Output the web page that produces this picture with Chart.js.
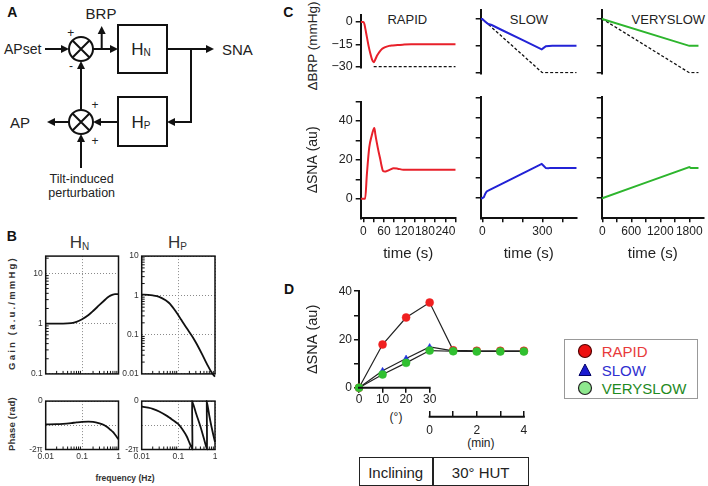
<!DOCTYPE html>
<html>
<head>
<meta charset="utf-8">
<script src="https://cdn.jsdelivr.net/npm/chart.js@4.4.1/dist/chart.umd.min.js"></script>
<style>
  body { margin: 0; background: #fff; }
  #fig { position: relative; width: 708px; height: 486px; overflow: hidden; background: #fff;
         font-family: "Liberation Sans", Arial, sans-serif; color: #222; }
  #fig canvas { position: absolute; }
  .t { position: absolute; transform: translate(-50%, -50%); white-space: nowrap; line-height: 1; color: #222; }
  .v { transform: translate(-50%, -50%) rotate(-90deg); }
  .pl { font-weight: bold; font-size: 14px; color: #111; }
  .ht { font-size: 17px; color: #333; }
  .ht span { font-size: 10px; position: relative; top: 2px; }
  .lg { position: absolute; font-size: 15px; line-height: 1; transform: translateY(-50%); }
</style>
</head>
<body>
<div id="fig">
  <!-- A: block diagram -->
  <svg width="262" height="205" style="position:absolute;left:0;top:0" font-family="Liberation Sans, Arial, sans-serif" fill="#222">
    <g stroke="#111" stroke-width="2" fill="none">
      <circle cx="81" cy="49" r="12"/>
      <path d="M72.5 40.5L89.5 57.5M89.5 40.5L72.5 57.5"/>
      <circle cx="81" cy="122" r="12"/>
      <path d="M72.5 113.5L89.5 130.5M89.5 113.5L72.5 130.5"/>
      <rect x="118" y="25" width="49" height="48"/>
      <rect x="118" y="97" width="49" height="49"/>
      <path d="M45 49H62M93 49H111M101.7 49V33M167 49H206M191 49V122H175M118 122H101M69 122H55M81 110V69M81 168V142"/>
    </g>
    <g fill="#111">
      <polygon points="69,49 61,45 61,53"/>
      <polygon points="118,49 110,45 110,53"/>
      <polygon points="101.7,26 97.7,34 105.7,34"/>
      <polygon points="214,49 206,45 206,53"/>
      <polygon points="167,122 175,118 175,126"/>
      <polygon points="93,122 101,118 101,126"/>
      <polygon points="47,122 55,118 55,126"/>
      <polygon points="81,61 77,69 85,69"/>
      <polygon points="81,134 77,142 85,142"/>
    </g>
    <text x="4" y="54" font-size="14">APset</text>
    <text x="101" y="19" font-size="15" text-anchor="middle">BRP</text>
    <text x="222" y="54.5" font-size="15">SNA</text>
    <text x="10" y="127.5" font-size="15">AP</text>
    <text x="141" y="55" font-size="17" text-anchor="middle">H<tspan font-size="10" dy="1">N</tspan></text>
    <text x="141" y="128" font-size="17" text-anchor="middle">H<tspan font-size="10" dy="1">P</tspan></text>
    <text x="70.7" y="36.5" font-size="12" text-anchor="middle">+</text>
    <text x="71" y="69.5" font-size="12" text-anchor="middle">-</text>
    <text x="95" y="109.2" font-size="12" text-anchor="middle">+</text>
    <text x="95" y="145.2" font-size="12" text-anchor="middle">+</text>
    <text x="81.7" y="183" font-size="12.5" text-anchor="middle">Tilt-induced</text>
    <text x="81.7" y="197.4" font-size="12.5" text-anchor="middle">perturbation</text>
  </svg>

  <div class="t pl" style="left:12.3px;top:12.3px">A</div>
  <div class="t pl" style="left:11.7px;top:236px">B</div>
  <div class="t pl" style="left:288.3px;top:11.7px">C</div>
  <div class="t pl" style="left:289px;top:289px">D</div>

  <!-- B labels -->
  <div class="t ht" style="left:79.5px;top:242px">H<span>N</span></div>
  <div class="t ht" style="left:177.5px;top:242px">H<span>P</span></div>
  <div class="t v" style="left:11.5px;top:313px;font-size:9.5px;font-weight:bold;letter-spacing:2.2px;color:#333">Gain (a.u./mmHg)</div>
  <div class="t v" style="left:11.5px;top:424px;font-size:9.5px;font-weight:bold;letter-spacing:0.2px;color:#333">Phase (rad)</div>
  <div class="t" style="left:125px;top:478px;font-size:8.5px;font-weight:bold;color:#333">frequency (Hz)</div>

  <!-- C titles -->
  <div class="t v" style="left:313.4px;top:46px;font-size:13.5px">ΔBRP (mmHg)</div>
  <div class="t" style="left:407.3px;top:19.3px;font-size:13px">RAPID</div>
  <div class="t" style="left:529px;top:19.3px;font-size:13px">SLOW</div>
  <div class="t" style="left:668.3px;top:19.3px;font-size:13px">VERYSLOW</div>

  <!-- D extras -->
  <div class="t" style="left:396px;top:416.7px;font-size:12px">(°)</div>
  <div class="t" style="left:480.8px;top:443.3px;font-size:12px">(min)</div>

  <div style="position:absolute;left:564px;top:339px;width:134px;height:60px;border:1.5px solid #999;box-sizing:border-box"></div>
  <svg width="18" height="54" style="position:absolute;left:576px;top:342px">
    <circle cx="9" cy="9" r="6.5" fill="#ee1111" stroke="#550000" stroke-width="1.2"/>
    <polygon points="9,22 15,33.5 3,33.5" fill="#1a1ad0" stroke="#000066" stroke-width="1"/>
    <circle cx="9" cy="46" r="6.5" fill="#8ee88e" stroke="#222" stroke-width="1.2"/>
  </svg>
  <div class="lg" style="left:601.7px;top:351px;color:#e83a3a">RAPID</div>
  <div class="lg" style="left:601.7px;top:370px;color:#2f2fd0">SLOW</div>
  <div class="lg" style="left:601.7px;top:388px;color:#1f8a1f">VERYSLOW</div>

  <div style="position:absolute;left:359px;top:457px;width:170px;height:29px;border:1.5px solid #222;box-sizing:border-box"></div>
  <div style="position:absolute;left:432.3px;top:457px;width:1.5px;height:29px;background:#222"></div>
  <div class="t" style="left:395.7px;top:471.5px;font-size:15px">Inclining</div>
  <div class="t" style="left:480.7px;top:471.5px;font-size:15px">30° HUT</div>
</div>

<script>
    Chart.defaults.font.family = '"Liberation Sans", Arial, sans-serif';
    Chart.defaults.color = '#222';
    Chart.defaults.animation = false;
    Chart.defaults.events = [];
    Chart.defaults.plugins.legend.display = false;
    Chart.defaults.plugins.tooltip.enabled = false;

    /** B : transfer functions (frequency in Hz) **/
    const freqN = [0.01, 0.02, 0.03, 0.05, 0.07, 0.1, 0.15, 0.2, 0.3, 0.4, 0.5, 0.6, 0.7, 0.8, 1.0];
    const gainN = [1.0, 1.0, 1.0, 1.02, 1.08, 1.22, 1.48, 1.78, 2.35, 2.85, 3.3, 3.6, 3.78, 3.86, 3.85];
    const phaseN = [-3.02, -3.0, -2.95, -2.85, -2.77, -2.7, -2.67, -2.7, -2.9, -3.1, -3.4, -3.72, -4.0, -4.34, -4.96];
    const freqPGain = [0.01, 0.015, 0.02, 0.03, 0.045, 0.06, 0.09, 0.12, 0.17, 0.25, 0.32, 0.45, 0.6, 0.8, 1.0];
    const gainP = [1.05, 1.03, 1.0, 0.92, 0.75, 0.6, 0.36, 0.24, 0.145, 0.085, 0.057, 0.031, 0.018, 0.011, 0.0085];
    const freqPPhase = [0.01, 0.015, 0.02, 0.03, 0.05, 0.07, 0.1, 0.13, 0.17, 0.2, 0.24,
        0.24, 0.3, 0.4, 0.5, 0.6, 0.6, 0.7, 0.8, 0.9, 1.0];
    const phaseP = [-0.7, -0.85, -1.0, -1.35, -1.95, -2.45, -3.0, -3.7, -4.6, -5.4, -6.28,
        0, -1.5, -3.3, -4.9, -6.28, 0, -1.9, -3.3, -4.4, -5.3];

    const freqTicks = [0.01, 0.1, 1];
    const freqLabels = ['0.01', '0.1', '1'];
    const gainNTicks = [0.1, 1, 10];
    const gainNLabels = ['0.1', '1', '10'];
    const gainPTicks = [0.01, 0.1, 1, 10];
    const gainPLabels = ['0.01', '0.1', '1', '10'];
    const phaseTicks = [-2 * Math.PI, -Math.PI, 0];
    const phaseLabels = ['-2π', '', '0'];

    /** C : time courses (s) **/
    const rapidT = [-8, 0, 3, 6, 10, 15, 20, 25, 30, 35, 40, 47, 55, 62, 75, 86, 100, 115, 140, 270];
    const rapidBRP = [0, 0, -1.5, -5, -10, -16, -21, -25, -27, -25, -22.5, -20, -18, -17, -16, -15.7, -15.4, -15.2, -15, -15];
    const rapidDashT = [30, 270];
    const rapidDash = [-30, -30];
    const rapidSnaT = [-8, 0, 5, 10, 17, 24, 29, 32, 35, 39, 44, 49, 53, 57, 63, 70, 78, 88, 100, 117, 270];
    const rapidSNA = [0, 0, 0, 12.4, 26.4, 32.3, 35.5, 36.4, 33, 29, 24.5, 20.6, 17, 14.4, 14, 14.4, 15, 15.7, 15.5, 15, 15];

    const slowT = [-8, 0, 15, 30, 47, 100, 200, 297, 305, 318, 350, 472];
    const slowBRP = [0, 0, -1.6, -2.8, -3.4, -6.3, -11.7, -17, -16.3, -15.2, -15, -15];
    const slowDashT = [-8, 0, 300, 472];
    const slowDash = [0, 0, -30, -30];
    const slowSnaT = [-8, 0, 8, 15, 22, 37, 100, 200, 297, 305, 318, 330, 340, 472];
    const slowSNA = [0, 0, 0.5, 2.2, 3.3, 4.1, 7.2, 12.2, 17, 16.2, 14.9, 14.8, 15, 15];

    const vslowT = [-12, 0, 1800, 1990];
    const vslowBRP = [0, 0, -15, -15];
    const vslowDashT = [-12, 0, 1800, 1990];
    const vslowDash = [0, 0, -30, -30];
    const vslowSnaT = [-12, 0, 900, 1800, 1830, 1990];
    const vslowSNA = [0, 0, 7.7, 15.4, 15, 15];

    const brpTicks = [-30, -15, 0];
    const brpLabels = ['\u221230', '\u221215', '0'];
    const snaTicks = [0, 10, 20, 30, 40, 50];
    const snaLabels = ['0', '', '20', '', '40', ''];
    const rapidTicks = [0, 30, 60, 90, 120, 150, 180, 210, 240, 270];
    const rapidLabels = ['0', '', '60', '', '120', '', '180', '', '240', ''];
    const slowTicks = [0, 100, 200, 300, 400];
    const slowLabels = ['0', '', '', '300', ''];
    const vslowTicks = [0, 300, 600, 900, 1200, 1500, 1800];
    const vslowLabels = ['0', '', '600', '', '1200', '', '1800'];

    /** D : ΔSNA during inclining (x 0-3 = 0-30°) and 30° HUT (x 3-7 = 0-4 min) **/
    const dX = [0, 1, 2, 3, 4, 5, 6, 7];
    const dRapid = [0, 17.9, 29.1, 35.3, 15.5, 15.3, 15.3, 15.3];
    const dSlow = [0, 7, 12.1, 16.9, 15.3, 15, 15, 15];
    const dVerySlow = [0, 5.5, 10.3, 15.4, 15.1, 15, 15, 15];
    const dYTicks = [0, 10, 20, 30, 40];
    const dYLabels = ['0', '', '20', '', '40'];
    const degTicks = [0, 1, 2, 3];
    const degLabels = ['0', '10', '20', '30'];
    const minTicks = [3, 4, 5, 6, 7];
    const minLabels = ['0', '', '2', '', '4'];

    const RED = '#e8202a', BLUE = '#2323d6', GREEN = '#2db52d', INK = '#111';

    const fig = document.getElementById('fig');
    const pts = (xs, ys) => xs.map((x, i) => ({x: x, y: ys[i]}));
    const fixedTicks = values => (s => { s.ticks = values.map(v => ({value: v})); });

    function place(L, T, W, H)
    {
        const c = document.createElement('canvas');
        c.width = W; c.height = H;
        c.style.left = L + 'px'; c.style.top = T + 'px';
        fig.appendChild(c);
        return c;
    }

    // log-decade minor tick positions for the Bode frames
    function minors(decades)
    {
        const out = [];
        decades.forEach(d => { for (let k = 2; k <= 9; k++) out.push(k * d); });
        return out;
    }

    /** box + inward minor ticks of panel B **/
    const framePlugin = {
        id: 'frame',
        afterDraw(chart, args, opts) {
            const {ctx, chartArea: a, scales} = chart;
            ctx.save();
            ctx.strokeStyle = INK;
            ctx.lineWidth = 1;
            ctx.beginPath();
            (opts.xMinor || []).forEach(v => {
                const px = scales.x.getPixelForValue(v);
                ctx.moveTo(px, a.bottom); ctx.lineTo(px, a.bottom - 3);
            });
            (opts.yMinor || []).forEach(v => {
                const py = scales.y.getPixelForValue(v);
                ctx.moveTo(a.left, py); ctx.lineTo(a.left + 3, py);
            });
            ctx.stroke();
            ctx.lineWidth = 1.5;
            ctx.strokeRect(a.left, a.top, a.right - a.left, a.bottom - a.top);
            ctx.restore();
        }
    };

    /** axis lines of panel D that cover only part of the plot width **/
    const splitAxisPlugin = {
        id: 'splitAxis',
        afterDraw(chart) {
            const {ctx, chartArea: a, scales} = chart;
            const y2 = scales.x2.top + 6;
            ctx.save();
            ctx.strokeStyle = INK;
            ctx.lineWidth = 2;
            ctx.beginPath();
            ctx.moveTo(scales.x.getPixelForValue(0) - 1, a.bottom);
            ctx.lineTo(scales.x.getPixelForValue(3) + 1, a.bottom);
            ctx.moveTo(scales.x2.getPixelForValue(3) - 1, y2);
            ctx.lineTo(scales.x2.getPixelForValue(7) + 1, y2);
            ctx.stroke();
            ctx.restore();
        }
    };

    function bodePlot(rect, area, opt)
    {
        const [L, T, W, H] = rect;
        const dotted = {color: '#8a8a8a', lineWidth: 1, drawTicks: false};
        return new Chart(place(L, T, W, H), {
            type: 'line',
            data: {
                datasets: [{
                    data: pts(opt.fx, opt.fy),
                    borderColor: INK, borderWidth: 1.8, pointRadius: 0,
                    tension: opt.tension || 0,
                    cubicInterpolationMode: opt.mono ? 'monotone' : 'default',
                    clip: opt.clip === false ? false : 2
                }]
            },
            options: {
                responsive: false, devicePixelRatio: 1,
                layout: {padding: {left: 0, top: area.t - T, right: L + W - area.r, bottom: T + H - area.b - opt.xH}},
                scales: {
                    x: {
                        type: 'logarithmic', min: 0.01, max: 1,
                        afterBuildTicks: fixedTicks(freqTicks),
                        afterFit: s => { s.height = opt.xH; },
                        grid: dotted, border: {display: false, dash: [1, 2]},
                        ticks: {display: opt.xLabels, font: {size: 8.5}, color: '#333', padding: 2.5,
                            maxRotation: 0, autoSkip: false, callback: (v, i) => freqLabels[i]}
                    },
                    y: {
                        type: opt.yType, min: opt.yMin, max: opt.yMax,
                        afterBuildTicks: fixedTicks(opt.yTicks),
                        afterFit: s => { s.width = area.l - L; },
                        grid: dotted, border: {display: false, dash: [1, 2]},
                        ticks: {font: {size: 8.5}, color: '#333', padding: 3, autoSkip: false,
                            callback: (v, i) => opt.yLabels[i]}
                    }
                },
                plugins: {frame: {xMinor: minors([0.01, 0.1]), yMinor: opt.yMinor}}
            },
            plugins: [framePlugin]
        });
    }

    bodePlot([14, 248, 110, 134], {l: 45.7, r: 118.5, t: 254.3, b: 375.7}, {
        fx: freqN, fy: gainN, mono: true, xH: 0, xLabels: false,
        yType: 'logarithmic', yMin: 0.1, yMax: 22, yTicks: gainNTicks, yLabels: gainNLabels,
        yMinor: minors([0.1, 1]).concat([20])
    });
    bodePlot([118, 248, 104, 134], {l: 141.7, r: 215, t: 254.3, b: 375}, {
        fx: freqPGain, fy: gainP, mono: true, xH: 0, xLabels: false, clip: false,
        yType: 'logarithmic', yMin: 0.01, yMax: 10, yTicks: gainPTicks, yLabels: gainPLabels,
        yMinor: minors([0.01, 0.1, 1])
    });
    bodePlot([14, 393, 110, 72], {l: 45.7, r: 118.5, t: 399, b: 449.5}, {
        fx: freqN, fy: phaseN, mono: true, xH: 15.5, xLabels: true,
        yType: 'linear', yMin: -2 * Math.PI, yMax: 0, yTicks: phaseTicks, yLabels: phaseLabels, yMinor: []
    });
    bodePlot([118, 393, 104, 72], {l: 141.7, r: 215, t: 399, b: 449.5}, {
        fx: freqPPhase, fy: phaseP, tension: 0.2, xH: 15.5, xLabels: true,
        yType: 'linear', yMin: -2 * Math.PI, yMax: 0, yTicks: phaseTicks, yLabels: phaseLabels, yMinor: []
    });

    /** C panels **/
    function timePlot(rect, area, opt)
    {
        const [L, T, W, H] = rect;
        const datasets = opt.series.map(s => ({
            data: pts(s.x, s.y), borderColor: s.color, borderWidth: s.dash ? 1.3 : 2,
            borderDash: s.dash || [], pointRadius: 0, tension: 0,
            cubicInterpolationMode: s.mono ? 'monotone' : 'default', order: s.dash ? 2 : 1
        }));
        const xH = opt.xTicks ? opt.xH : 0;
        return new Chart(place(L, T, W, H), {
            type: 'line',
            data: {datasets: datasets},
            options: {
                responsive: false, devicePixelRatio: 1,
                layout: {padding: {left: 0, top: area.t - T, right: L + W - area.r, bottom: T + H - area.b - xH}},
                scales: {
                    x: {
                        type: 'linear', display: !!opt.xTicks, min: opt.xMin, max: opt.xMax,
                        afterBuildTicks: fixedTicks(opt.xTicks || []),
                        afterFit: s => { s.height = xH; },
                        grid: {drawOnChartArea: false, tickLength: 4, lineWidth: 1.5, color: INK},
                        border: {width: 2, color: INK},
                        ticks: {font: {size: 12}, color: '#222', padding: 2.2, maxRotation: 0, autoSkip: false,
                            callback: (v, i) => (opt.xLabels || [])[i]},
                        title: {display: true, text: 'time (s)', font: {size: 15}, color: '#222', padding: {top: 0, bottom: 0}}
                    },
                    y: {
                        type: 'linear', min: opt.yMin, max: opt.yMax,
                        afterBuildTicks: fixedTicks(opt.yTicks),
                        afterFit: s => { s.width = area.l - L; },
                        grid: {drawOnChartArea: false, tickLength: 5, lineWidth: 1.5, color: INK},
                        border: {width: 2, color: INK},
                        ticks: {display: !!opt.yLabelsOn, font: {size: 12.5}, color: '#222', padding: 3, autoSkip: false,
                            callback: (v, i) => opt.yLabels[i]},
                        title: {display: !!opt.yTitle, text: opt.yTitle, font: {size: 14}, color: '#222', padding: 7}
                    }
                }
            }
        });
    }

    const dash = [3, 2];
    const topArea = (l, r) => ({l: l, r: r, t: 10, b: 73.6});
    const botArea = (l, r) => ({l: l, r: r, t: 97.3, b: 218.3});

    timePlot([298, 4, 162, 74], topArea(360.7, 455.7), {
        xMin: -8, xMax: 270, yMin: -30.5, yMax: 5, yTicks: brpTicks, yLabels: brpLabels, yLabelsOn: true,
        series: [{x: rapidT, y: rapidBRP, color: RED, mono: true}, {x: rapidDashT, y: rapidDash, color: INK, dash: dash}]
    });
    timePlot([470, 4, 110, 74], topArea(480.7, 576.7), {
        xMin: -8, xMax: 472, yMin: -30.5, yMax: 5, yTicks: brpTicks, yLabels: brpLabels,
        series: [{x: slowT, y: slowBRP, color: BLUE}, {x: slowDashT, y: slowDash, color: INK, dash: dash}]
    });
    timePlot([591, 4, 117, 74], topArea(601.7, 703.8), {
        xMin: -12, xMax: 2100, yMin: -30.5, yMax: 5, yTicks: brpTicks, yLabels: brpLabels,
        series: [{x: vslowT, y: vslowBRP, color: GREEN}, {x: vslowDashT, y: vslowDash, color: INK, dash: dash}]
    });

    timePlot([298, 91, 162, 172], botArea(360.7, 455.7), {
        xMin: -8, xMax: 270, xTicks: rapidTicks, xLabels: rapidLabels, xH: 44.7,
        yMin: -10, yMax: 50, yTicks: snaTicks, yLabels: snaLabels, yLabelsOn: true, yTitle: 'ΔSNA (au)',
        series: [{x: rapidSnaT, y: rapidSNA, color: RED, mono: true}]
    });
    timePlot([470, 91, 110, 172], botArea(480.7, 576.7), {
        xMin: -8, xMax: 472, xTicks: slowTicks, xLabels: slowLabels, xH: 44.7,
        yMin: -10, yMax: 50, yTicks: snaTicks, yLabels: snaLabels,
        series: [{x: slowSnaT, y: slowSNA, color: BLUE}]
    });
    timePlot([591, 91, 117, 172], botArea(601.7, 703.8), {
        xMin: -12, xMax: 2100, xTicks: vslowTicks, xLabels: vslowLabels, xH: 44.7,
        yMin: -10, yMax: 50, yTicks: snaTicks, yLabels: snaLabels,
        series: [{x: vslowSnaT, y: vslowSNA, color: GREEN}]
    });

    /** D panel **/
    function markerSeries(ys, color, style, radius, order)
    {
        return {
            data: pts(dX, ys), borderColor: '#222', borderWidth: 1.2, tension: 0,
            pointStyle: style, pointRadius: radius, pointBackgroundColor: color,
            pointBorderColor: color, pointBorderWidth: 0.5, clip: false, order: order
        };
    }

    new Chart(place(296, 282, 238, 154), {
        type: 'line',
        data: {
            datasets: [
                markerSeries(dRapid, '#f02020', 'circle', 4, 3),
                markerSeries(dSlow, '#2030e0', 'triangle', 3.5, 2),
                markerSeries(dVerySlow, '#30c030', 'circle', 4, 1)
            ]
        },
        options: {
            responsive: false, devicePixelRatio: 1,
            layout: {padding: {left: 0, top: 8.7, right: 5, bottom: 0.3}},
            scales: {
                x: {
                    type: 'linear', min: 0, max: 7, weight: 1,
                    afterBuildTicks: fixedTicks(degTicks),
                    afterFit: s => { s.height = 23; },
                    grid: {drawOnChartArea: false, tickLength: 5, lineWidth: 1.5, color: INK},
                    border: {display: false},
                    ticks: {font: {size: 12}, color: '#222', padding: 0, maxRotation: 0, autoSkip: false,
                        callback: (v, i) => degLabels[i]}
                },
                x2: {
                    type: 'linear', position: 'bottom', min: 0, max: 7, weight: 2,
                    afterBuildTicks: fixedTicks(minTicks),
                    afterFit: s => { s.height = 25; },
                    grid: {drawOnChartArea: false, tickLength: 6, lineWidth: 1.5, color: INK},
                    border: {display: false},
                    ticks: {font: {size: 12}, color: '#222', padding: 6.8, maxRotation: 0, autoSkip: false,
                        callback: (v, i) => minLabels[i]}
                },
                y: {
                    type: 'linear', min: 0, max: 40,
                    afterBuildTicks: fixedTicks(dYTicks),
                    afterFit: s => { s.width = 63; },
                    grid: {drawOnChartArea: false, tickLength: 5, lineWidth: 1.5, color: INK},
                    border: {width: 2, color: INK},
                    ticks: {font: {size: 12}, color: '#222', padding: 2, autoSkip: false,
                        callback: (v, i) => dYLabels[i]},
                    title: {display: true, text: 'ΔSNA (au)', font: {size: 14.5}, color: '#222', padding: 8.6}
                }
            }
        },
        plugins: [splitAxisPlugin]
    });
</script>
</body>
</html>
